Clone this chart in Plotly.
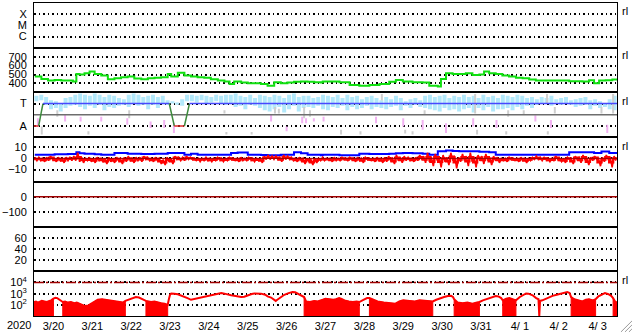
import pandas as pd
import plotly.graph_objects as go
from plotly.subplots import make_subplots

EPOCH = pd.Timestamp("2020-03-20 00:00")

# ---------------- data (day offsets from 2020-03-20 00:00) ----------------
day_labels = ["3/20", "3/21", "3/22", "3/23", "3/24", "3/25", "3/26", "3/27",
              "3/28", "3/29", "3/30", "3/31", "4/ 1", "4/ 2", "4/ 3"]

# Panel 2: solar wind speed (km/s)
sw_day = [0.02, 0.19, 0.36, 0.53, 0.70, 0.87, 1.00, 1.09, 1.17, 1.30,
          1.43, 1.56, 1.73, 1.90, 2.07, 2.24, 2.41, 2.58, 2.76, 2.93,
          3.10, 3.27, 3.44, 3.53, 3.70, 3.87, 4.04, 4.21, 4.38, 4.55,
          4.73, 4.90, 5.03, 5.15, 5.33, 5.50, 5.67, 5.84, 6.01, 6.18,
          6.35, 6.52, 6.69, 6.87, 7.04, 7.21, 7.38,
          7.43, 7.60, 7.86, 8.12, 8.37, 8.63, 8.89, 9.14, 9.31, 9.49,
          9.74, 10.00, 10.17, 10.39, 10.47, 10.60, 10.77, 10.94, 11.11, 11.28,
          11.46, 11.58, 11.71, 11.88, 12.05, 12.22, 12.40, 12.57, 12.74, 12.91,
          13.09, 13.26, 13.42, 13.60, 13.77, 13.94, 14.11, 14.28, 14.41, 14.54,
          14.71, 14.88, 15.00]
sw_speed = [478, 451, 433, 440, 433, 433, 421, 507, 500, 515,
            534, 507, 489, 448, 459, 470, 478, 455, 448, 459,
            463, 470, 507, 478, 519, 489, 478, 470, 463, 448,
            433, 421, 395, 421, 410, 403, 403, 395, 376, 414,
            403, 410, 418, 421, 418, 414, 410,
            421, 421, 414, 384, 376, 384, 395, 418, 440, 421,
            414, 410, 376, 365, 451, 515, 507, 507, 515, 496,
            500, 534, 515, 507, 489, 478, 463, 459, 444, 433,
            433, 433, 433, 433, 425, 425, 421, 436, 403, 433,
            436, 444, 444]

# Panel 3: IMF sector (T = +1, A = -1)
sector_day = [0.00, 0.12, 0.23, 3.48, 3.61, 3.87, 4.00, 15.00]
sector_pol = [-1, -1, 1, 1, -1, -1, 1, 1]

# light-blue streaks, 3-hourly bins (top, bottom)
lb_hi = [1.7, 1.8, 1.6, 1.3, 1.2, 1.0, 1.5, 1.6,
         1.8, 1.9, 1.8, 1.7, 1.9, 1.8, 1.6, 1.8,
         1.7, 1.5, 1.4, 1.8, 1.9, 1.8, 1.6, 1.7,
         1.8, 1.6, 1.7, 1.3, 1.2, 1.1, 1.4, 1.8,
         1.8, 1.7, 1.8, 1.7, 1.6, 1.8, 1.7, 1.8,
         1.8, 1.9, 1.7, 1.6, 1.8, 1.5, 1.8, 1.7,
         1.6, 1.8, 1.7, 1.5, 1.8, 1.9, 1.6, 1.7,
         1.7, 1.5, 1.6, 1.8, 1.7, 1.6, 1.8, 1.5,
         1.8, 1.6, 1.7, 1.4, 1.6, 1.7, 1.5, 1.3,
         1.6, 1.4, 1.7, 1.5, 1.2, 1.4, 1.5, 1.3,
         1.7, 1.8, 1.6, 1.7, 1.8, 1.5, 1.7, 1.6,
         1.8, 1.6, 1.7, 1.5, 1.8, 1.6, 1.7, 1.5,
         1.8, 1.7, 1.6, 1.8, 1.7, 1.5, 1.6, 1.4,
         1.6, 1.5, 1.7, 1.4, 1.5, 1.6, 1.3, 1.4,
         1.5, 1.6, 1.3, 1.4, 1.2, 1.0, 1.4, 1.7]
lb_lo = [1.2, 1.3, 0.9, 0.5, 0.6, 0.3, 0.6, 0.8,
         0.9, 0.7, 0.5, 0.8, 0.6, 0.9, 0.4, 0.7,
         0.6, 0.8, 0.9, 0.7, 1.0, 0.8, 0.9, 0.5,
         0.9, 0.6, 1.0, 0.9, 1.0, 0.9, 0.8, 1.2,
         1.2, 1.1, 1.3, 1.0, 1.1, 1.2, 1.0, 0.9,
         1.0, 0.7, 0.8, 0.5, 0.9, 0.8, 0.6, 0.4,
         0.3, 0.5, 0.7, 0.2, 0.5, 0.8, 0.3, 0.6,
         0.7, 0.6, 0.8, 0.5, 0.4, 0.7, 0.6, 0.8,
         0.4, 0.7, 0.5, 0.6, 0.8, 0.5, 0.7, 0.6,
         0.5, 0.7, 0.8, 0.4, 0.8, 0.6, 0.9, 0.7,
         0.6, 0.5, 0.4, 0.3, 0.6, 0.4, 0.5, 0.3,
         0.5, 0.6, 0.2, 0.6, 0.4, 0.7, 0.3, 0.5,
         0.5, 0.6, 0.4, 0.7, 0.5, 0.8, 0.6, 0.9,
         1.0, 1.0, 0.8, 1.1, 0.9, 1.0, 0.9, 0.7,
         0.8, 0.9, 0.5, 0.8, 0.6, 0.7, 0.5, 0.4]

pink_day = [0.10, 0.80, 1.20, 1.73, 2.40, 3.00, 3.35, 3.60, 6.10, 6.50, 6.90, 7.00,
            7.20, 7.45, 8.80, 9.50, 10.00, 10.60, 11.30, 11.90, 12.90, 13.30, 14.75]
pink_hi = [-0.32, -0.03, -0.17, -0.17, -0.32, -0.61, -0.46, -0.75, -0.03, -1.04, -0.17, -0.32,
           -0.32, -0.17, -0.17, -0.32, -0.46, -0.75, -0.32, -0.46, -0.05, -0.46, -0.90]
pink_lo = [-1.04, -0.61, -0.61, -0.61, -0.90, -1.19, -1.19, -1.62, -0.61, -1.48, -0.75, -0.75,
           -0.61, -0.61, -0.75, -1.04, -1.33, -1.62, -1.04, -1.19, -0.61, -1.19, -1.62]

gray_day = [0.20, 0.60, 1.40, 2.45, 4.90, 4.95, 5.60, 6.20, 6.30, 6.95, 7.10, 7.90, 8.40,
            8.95, 9.55, 9.74, 10.05, 11.35, 11.40, 12.15, 12.20, 12.60, 13.20, 13.22,
            13.40, 14.60, 14.90]
gray_hi = [-1.04, 0.41, -1.48, 0.41, 0.41, -1.55, -1.55, 0.70, 0.55, 0.70, 0.41, -1.33, -1.48,
           1.85, -1.33, -1.48, 0.41, 1.85, -1.33, -1.48, 0.41, 0.41, 1.85, -1.48,
           0.70, 0.70, 1.85]
gray_lo = [-1.77, -0.17, -1.77, -0.32, 0.12, -1.77, -1.77, 0.12, 0.12, -0.32, -0.17, -1.77, -1.77,
           1.27, -1.68, -1.77, -0.03, 0.12, -1.77, -1.77, -0.17, -0.03, 0.98, -1.77,
           0.12, 0.12, 0.12]

# Panel 4: IMF Bt and Bz (nT)
bt_day = [0.02, 0.53, 0.87, 1.09, 1.17, 1.30, 1.56, 1.73, 2.07, 2.41,
          2.76, 3.10, 3.44, 3.87, 4.04, 4.21, 4.73, 5.07, 5.24, 5.50,
          5.84, 6.01, 6.35, 6.69, 6.87, 7.04, 7.38, 7.43, 7.86, 8.37,
          8.63, 8.89, 9.14, 9.31, 9.49, 9.74, 10.00, 10.17, 10.39, 10.60,
          10.77, 10.94, 11.28, 11.46, 11.71, 11.88, 12.22, 12.57, 13.09, 13.42,
          13.77, 14.11, 14.41, 14.60, 14.80, 15.00]
bt_val = [3.3, 3.6, 3.9, 5.5, 4.5, 4.2, 3.6, 3.3, 4.8, 4.2,
          3.9, 4.2, 4.8, 3.3, 4.2, 3.3, 3.3, 4.8, 5.2, 3.3,
          3.0, 2.7, 3.3, 5.5, 4.5, 3.3, 2.7, 3.3, 2.7, 4.2,
          4.0, 3.9, 4.2, 4.5, 4.8, 4.5, 4.2, 3.3, 6.4, 7.0,
          6.7, 6.4, 6.4, 6.0, 5.5, 3.3, 3.3, 3.3, 3.3, 3.3,
          5.5, 5.5, 4.8, 6.1, 4.8, 4.5]
# Bz range (max, min) in 0.1-day bins
bz_hi = [1, 1, 0, 1, 2, 0, 1, 0, 1, 1,
         2, 5, 1, 0, 1, 0, 1, 0, 0, 1,
         0, 1, 0, 1, 2, 0, 1, 1, 2, 1,
         0, 1, 0, -1, 1, 0, 2, 1, 1, 2,
         1, 0, 0, 0, 1, 0, 0, 1, 0, 0,
         1, 0, 0, 1, 0, 1, 0, 0, 0, 2,
         3, 2, 2, 1, 3, 2, 1, 0, 1, 0,
         0, -1, 0, 0, 1, 0, 0, 1, 0, 1,
         0, 1, 0, 1, 0, 1, 0, 0, 1, 0,
         1, 2, 0, 3, 1, 2, 1, 0, 1, 3,
         2, 5, 1, 4, 2, 3, 1, 5, 2, 1,
         4, 2, 5, 1, 3, 2, 4, 1, 2, 1,
         0, 0, 1, 0, 0, 1, 0, 0, 1, 2,
         1, 1, 0, 0, 2, 0, 0, 1, 0, 2,
         1, 3, 0, 1, 2, 0, 1, 3, 1, 2]
bz_lo = [-2, -2, -3, -2, -1, -3, -2, -4, -2, -2,
         -2, -3, -4, -2, -3, -4, -2, -3, -5, -3,
         -4, -2, -5, -3, -2, -4, -2, -3, -1, -2,
         -3, -2, -5, -6, -3, -5, -1, -2, -2, -1,
         -1, -2, -3, -2, -2, -3, -2, -1, -3, -2,
         -1, -2, -3, -2, -2, -1, -3, -2, -4, -1,
         -1, -1, -1, -3, -1, -1, -2, -3, -2, -5,
         -3, -6, -4, -2, -2, -1, -3, -2, -2, -1,
         -2, -1, -3, -2, -4, -1, -2, -3, -2, -4,
         -3, -2, -5, -2, -4, -2, -2, -3, -2, -1,
         -4, -3, -7, -2, -8, -3, -6, -2, -9, -3,
         -2, -7, -3, -8, -2, -5, -2, -6, -2, -4,
         -2, -3, -1, -2, -3, -2, -4, -2, -1, -1,
         -2, -1, -3, -2, -1, -3, -4, -1, -5, -1,
         -4, -1, -6, -2, -1, -7, -3, -1, -8, -2]

# reference levels
bz_ref = 0
dst_ref = 0
ee_alert = 1e4

# Panel 7: >2 MeV electron flux (log10)
ee_day = [0.00, 0.05, 0.10, 0.15, 0.20, 0.27, 0.33, 0.40, 0.44, 0.50,
          0.55, 0.60, 0.65, 0.70, 0.74, 0.80, 0.87, 0.95, 1.04, 1.10,
          1.21, 1.30, 1.40, 1.47, 1.55, 1.64, 1.75, 1.85, 1.99, 2.08,
          2.16, 2.29, 2.35, 2.45, 2.54, 2.62, 2.70, 2.78, 2.88, 2.95,
          3.01, 3.10, 3.18, 3.27, 3.36, 3.44, 3.47, 3.50, 3.53, 3.58,
          3.61, 3.70, 3.78, 3.85, 3.95, 4.04, 4.10, 4.21, 4.35, 4.47,
          4.60, 4.73, 4.82, 4.90, 5.00, 5.07, 5.15, 5.24, 5.33, 5.41,
          5.50, 5.60, 5.67, 5.75, 5.84, 5.95, 6.01, 6.10, 6.18, 6.22,
          6.26, 6.35, 6.44, 6.55, 6.65, 6.72, 6.82, 6.90, 6.95, 7.00,
          7.10, 7.21, 7.30, 7.43, 7.50, 7.60, 7.70, 7.77, 7.85, 7.90,
          7.99, 8.10, 8.20, 8.30, 8.37, 8.45, 8.50, 8.57, 8.63, 8.70,
          8.84, 9.00, 9.14, 9.30, 9.40, 9.50, 9.66, 9.80, 9.92, 10.10,
          10.26, 10.35, 10.45, 10.55, 10.65, 10.73, 10.78, 10.81, 10.90, 11.03,
          11.15, 11.28, 11.40, 11.46, 11.55, 11.67, 11.80, 11.88, 11.95, 12.02,
          12.06, 12.15, 12.23, 12.30, 12.40, 12.50, 12.60, 12.66, 12.72, 12.83,
          12.92, 12.98, 13.00, 13.02, 13.08, 13.20, 13.34, 13.45, 13.60, 13.72,
          13.78, 13.82, 13.90, 14.00, 14.11, 14.20, 14.28, 14.38, 14.45, 14.52,
          14.60, 14.69, 14.78, 14.85, 14.90, 14.95, 15.00]
ee_log10 = [2.25, 2.30, 2.20, 2.30, 2.35, 2.30, 2.25, 2.35, 2.40, 2.55,
            2.62, 2.60, 2.45, 2.35, 2.25, 2.30, 2.20, 2.25, 2.15, 2.20,
            2.05, 1.90, 1.95, 2.10, 2.30, 2.45, 2.50, 2.45, 2.40, 2.30,
            2.25, 2.20, 2.35, 2.50, 2.62, 2.70, 2.65, 2.50, 2.35, 2.30,
            2.25, 2.30, 2.20, 2.15, 2.10, 2.00, 2.50, 2.90, 3.00, 3.02,
            2.98, 2.95, 2.85, 2.75, 2.60, 2.45, 2.50, 2.55, 2.65, 2.80,
            2.92, 3.02, 3.05, 3.00, 2.90, 2.85, 2.82, 2.75, 2.70, 2.72,
            2.85, 2.97, 3.02, 3.03, 3.00, 2.90, 2.75, 2.65, 2.50, 2.35,
            2.45, 2.70, 2.90, 3.05, 3.15, 3.12, 2.95, 2.85, 2.70, 2.30,
            2.25, 2.35, 2.30, 2.45, 2.55, 2.50, 2.45, 2.50, 2.60, 2.55,
            2.40, 2.30, 2.25, 2.30, 2.25, 2.40, 2.50, 2.60, 2.60, 2.50,
            2.30, 2.20, 2.15, 2.10, 2.30, 2.40, 2.35, 2.30, 2.40, 2.35,
            2.30, 2.45, 2.60, 2.70, 2.78, 2.80, 2.70, 2.50, 2.20, 2.15,
            2.20, 2.10, 2.20, 2.25, 2.40, 2.55, 2.70, 2.78, 2.75, 2.60,
            2.40, 2.55, 2.60, 2.50, 2.40, 2.70, 2.95, 3.02, 3.00, 2.85,
            2.60, 2.50, 1.00, 2.35, 2.40, 2.60, 2.80, 2.90, 3.05, 3.15,
            3.05, 2.70, 2.50, 2.40, 2.30, 2.45, 2.50, 2.40, 2.50, 2.75,
            2.90, 3.05, 2.95, 2.80, 2.60, 2.30, 2.20]
# intervals with dense drop-outs (appear filled)
ee_noisy = [(0.00, 0.50), (0.74, 2.35), (2.88, 3.44), (6.95, 8.37), (8.63, 10.26),
            (10.81, 11.46), (12.06, 12.40), (13.82, 14.45), (14.90, 15.00)]


def ts(days):
    return [EPOCH + pd.to_timedelta(d, unit="D") for d in days]


def streaks(days, hi, lo):
    xs, ys = [], []
    for d, h, l in zip(days, hi, lo):
        t = EPOCH + pd.to_timedelta(d, unit="D")
        xs += [t, t, None]
        ys += [l, h, None]
    return xs, ys


# ---------------- figure ----------------
fig = make_subplots(rows=7, cols=1, shared_xaxes=True, vertical_spacing=0)

FONT = "Liberation Sans, Arial, sans-serif"
BLACK = "#000000"
DOTS = "1.5px,3px"

# empty panels (flare class, Dst, Kp-like) still need their axes
for r in (1, 5, 6):
    fig.add_trace(go.Scatter(x=[], y=[], mode="lines"), row=r, col=1)

# Panel 2
fig.add_trace(go.Scatter(x=ts(sw_day), y=sw_speed, mode="lines", line_shape="hv",
                         line=dict(color="#10e010", width=2)), row=2, col=1)

# Panel 3
lb_days = [(i * 3 + 1.5) / 24 for i in range(len(lb_hi))]
x, y = streaks(lb_days, lb_hi, lb_lo)
fig.add_trace(go.Scatter(x=x, y=y, mode="lines", line=dict(color="#b2e8fa", width=4)), row=3, col=1)
x, y = streaks(gray_day, gray_hi, gray_lo)
fig.add_trace(go.Scatter(x=x, y=y, mode="lines", line=dict(color="#cfcfcf", width=2)), row=3, col=1)
x, y = streaks(pink_day, pink_hi, pink_lo)
fig.add_trace(go.Scatter(x=x, y=y, mode="lines", line=dict(color="#f2b2f2", width=2)), row=3, col=1)
fig.add_trace(go.Scatter(x=ts([sector_day[0], sector_day[-1]]), y=[0, 0], mode="lines",
                         line=dict(color="#6e6e6e", width=1.5)), row=3, col=1)
for i in range(len(sector_day) - 1):
    a, b = sector_pol[i], sector_pol[i + 1]
    col = "#4848ff" if (a == 1 and b == 1) else ("#e02828" if (a == -1 and b == -1) else "#3c8a3c")
    fig.add_trace(go.Scatter(x=ts(sector_day[i:i + 2]), y=[a, b], mode="lines",
                             line=dict(color=col, width=1.5)), row=3, col=1)

# Panel 4
fig.add_trace(go.Scatter(x=ts(bt_day), y=bt_val, mode="lines", line_shape="hv",
                         line=dict(color="#0000ff", width=2)), row=4, col=1)
# Bz drawn as fast oscillation between each bin's max and min
zx, zy = [], []
for i, (h, l) in enumerate(zip(bz_hi, bz_lo)):
    zx += ts([(i + 0.25) / 10, (i + 0.75) / 10])
    zy += [h, l]
fig.add_trace(go.Scatter(x=zx, y=zy, mode="lines", line=dict(color="#ff0000", width=1.6)), row=4, col=1)
# thicker core of Bz around its bin midpoint
cx, cy = [], []
for i, (h, l) in enumerate(zip(bz_hi, bz_lo)):
    cx += ts([i / 10, (i + 1) / 10])
    cy += [(h + l) / 2, (h + l) / 2]
fig.add_trace(go.Scatter(x=cx, y=cy, mode="lines", line=dict(color="#ff0000", width=2.5)), row=4, col=1)

# Panel 7
fx, fy = [], []
for a, b in ee_noisy:
    pts = [(d, v) for d, v in zip(ee_day, ee_log10) if a <= d <= b]
    fx += ts([p[0] for p in pts]) + ts([b, a, a]) + [None]
    fy += [10 ** p[1] for p in pts] + [1.0, 1.0, 10 ** pts[0][1]] + [None]
fig.add_trace(go.Scatter(x=fx, y=fy, mode="lines", fill="toself", fillcolor="#ff0000",
                         line=dict(color="#ff0000", width=1)), row=7, col=1)
fig.add_trace(go.Scatter(x=ts(ee_day), y=[10 ** v for v in ee_log10], mode="lines",
                         line=dict(color="#ff0000", width=2)), row=7, col=1)

# ---------------- axes ----------------
n = 7
for i in range(1, n + 1):
    top = 1 - (i - 1) / n
    bot = 1 - i / n
    fig.update_yaxes(row=i, col=1, domain=[bot, top], showline=True, mirror=True,
                     linecolor=BLACK, linewidth=1, ticks="", zeroline=False,
                     showgrid=True, gridcolor=BLACK, gridwidth=1.5, griddash=DOTS,
                     tickfont=dict(family=FONT, size=11, color=BLACK), ticklabelstandoff=4,
                     fixedrange=True)
    fig.update_xaxes(row=i, col=1, showline=True, mirror=True, linecolor=BLACK, linewidth=1,
                     ticks="", showgrid=False, zeroline=False,
                     range=[EPOCH, EPOCH + pd.Timedelta(days=15)])

fig.update_yaxes(row=1, col=1, type="log", range=[-7, -3], tickmode="array",
                 tickvals=[1e-4, 1e-5, 1e-6], ticktext=["X", "M", "C"])
fig.update_yaxes(row=2, col=1, range=[300, 800], tickmode="array", tickvals=[400, 500, 600, 700])
fig.update_yaxes(row=3, col=1, range=[-2, 2], tickmode="array", tickvals=[1, -1], ticktext=["T", "A"])
fig.update_yaxes(row=4, col=1, range=[-21, 19], tickmode="array", tickvals=[-10, 0, 10])
fig.update_yaxes(row=5, col=1, range=[-200, 100], tickmode="array", tickvals=[-100, 0])
fig.update_yaxes(row=6, col=1, range=[0, 80], tickmode="array", tickvals=[20, 40, 60])
fig.update_yaxes(row=7, col=1, type="log", range=[1, 5], tickmode="array",
                 tickvals=[1e2, 1e3, 1e4],
                 ticktext=["10<sup>2</sup>", "10<sup>3</sup>", "10<sup>4</sup>"])

fig.update_xaxes(row=7, col=1, tickmode="array",
                 tickvals=[EPOCH + pd.Timedelta(days=k, hours=12) for k in range(len(day_labels))],
                 ticktext=day_labels, showticklabels=True,
                 tickfont=dict(family=FONT, size=11, color=BLACK))

# ---------------- shapes ----------------
shapes = []
for k in range(1, 15):
    xd = EPOCH + pd.Timedelta(days=k)
    shapes.append(dict(type="line", xref="x", yref="paper", x0=xd, x1=xd, y0=0, y1=1,
                       line=dict(color=BLACK, width=1.5, dash=DOTS), layer="below"))
shapes.append(dict(type="line", xref="x4 domain", yref="y4", x0=0, x1=1, y0=bz_ref, y1=bz_ref,
                   line=dict(color="#a00000", width=1)))
shapes.append(dict(type="line", xref="x5 domain", yref="y5", x0=0, x1=1, y0=dst_ref, y1=dst_ref,
                   line=dict(color="#a00000", width=1.5)))
shapes.append(dict(type="line", xref="x7 domain", yref="y7", x0=0, x1=1, y0=ee_alert, y1=ee_alert,
                   line=dict(color="#a00000", width=1.5, dash="10px,2px,2px,2px")))
# window resize grip (bottom-right corner)
W, H, L, B, T = 633, 334, 33, 17, 2
pw, ph = W - L - 16, H - T - B
def px(xp): return (xp - L) / pw
def py(yp): return (H - B - yp) / ph
for off in (0, 4, 8):
    shapes.append(dict(type="line", xref="paper", yref="paper",
                       x0=px(621 + off), y0=py(333), x1=px(632), y1=py(322 + off),
                       line=dict(color="#9a9a9a", width=1)))
fig.update_layout(shapes=shapes)

# ---------------- annotations ----------------
ann = [dict(text="2020", xref="paper", yref="paper", x=px(4), y=py(326), xanchor="left",
            yanchor="middle", showarrow=False, font=dict(family=FONT, size=11, color=BLACK))]
for yy in (10.5, 54.5, 100.5, 145.5, 280.5):
    ann.append(dict(text="rl", xref="paper", yref="paper", x=px(620), y=py(yy), xanchor="left",
                    yanchor="middle", showarrow=False, font=dict(family=FONT, size=11, color=BLACK)))
fig.update_layout(annotations=ann)

fig.update_layout(width=W, height=H, margin=dict(l=L, r=16, t=T, b=B),
                  paper_bgcolor="white", plot_bgcolor="white", showlegend=False,
                  font=dict(family=FONT, size=11, color=BLACK))

fig.write_html("out.html")
